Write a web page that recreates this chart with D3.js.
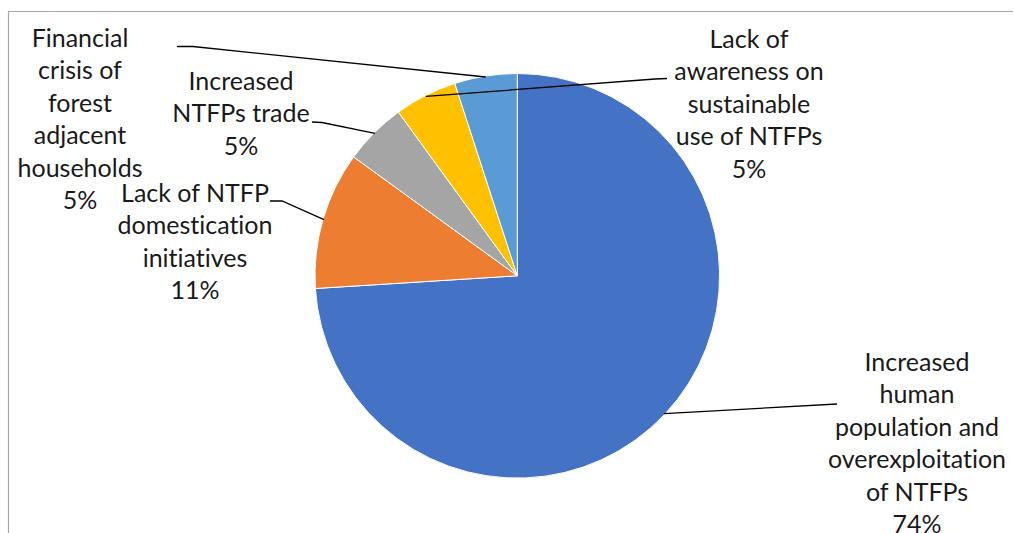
<!DOCTYPE html>
<html>
<head>
<meta charset="utf-8">
<script src="https://cdn.jsdelivr.net/npm/d3@7"></script>
<style>
  html, body { margin: 0; padding: 0; background: #fff; }
  svg text {
    font-family: Lato, "Open Sans", sans-serif;
    fill: #1a1a1a;
    font-variant-ligatures: none;
    font-feature-settings: "liga" 0, "clig" 0;
  }
</style>
</head>
<body>
<svg id="chart" width="1014" height="533"></svg>
<script>
// Causes of NTFP decline (share of responses, %)
const categories = [
  ["Increased", "human", "population and", "overexploitation", "of NTFPs"],
  ["Lack of NTFP", "domestication", "initiatives"],
  ["Increased", "NTFPs trade"],
  ["Lack of", "awareness on", "sustainable", "use of NTFPs"],
  ["Financial", "crisis of", "forest", "adjacent", "households"]
];
const values = [74, 11, 5, 5, 5];
const colors = ["#4472C4", "#ED7D31", "#A5A5A5", "#FFC000", "#5B9BD5"];

// label placement: centre x, first baseline y, and the leader-line path near the label
const labelLayout = [
  { x: 917, y: 371, lead: [[837, 404]] },
  { x: 195, y: 202, lead: [[270, 201], [282, 201]] },
  { x: 241, y: 90,  lead: [[312, 122], [322, 122.5]] },
  { x: 749, y: 48,  lead: [[667, 78.5], [655, 79]] },
  { x: 80,  y: 47,  lead: [[177, 46.5], [193, 46.5]] }
];

const W = 1014, H = 533;
const cx = 517.3, cy = 275.8, R = 202.3;
const lineH = 32.4;

const svg = d3.select("#chart");

// chart frame (top and left edges visible)
svg.append("path")
  .attr("d", `M8.5,${H} V11.5 H1013`)
  .attr("fill", "none")
  .attr("stroke", "#a6a6a6")
  .attr("stroke-width", 1.2);

const data = values.map((v, i) => ({ value: v, lines: categories[i], color: colors[i], layout: labelLayout[i] }));

const pie = d3.pie().value(d => d.value).sort(null);
const arcs = pie(data);
const arc = d3.arc().innerRadius(0).outerRadius(R);

const g = svg.append("g").attr("transform", `translate(${cx},${cy})`);
g.selectAll("path.slice")
  .data(arcs)
  .join("path")
  .attr("class", "slice")
  .attr("d", arc)
  .attr("fill", d => d.data.color)
  .attr("stroke", "#fff")
  .attr("stroke-width", 1);

// leader lines from the slice edge (mid-angle) to the label
arcs.forEach(a => {
  const mid = (a.startAngle + a.endAngle) / 2;
  const px = cx + R * Math.sin(mid) * 0.995;
  const py = cy - R * Math.cos(mid) * 0.995;
  const pts = a.data.layout.lead.concat([[px, py]]);
  svg.append("path")
    .attr("d", d3.line()(pts))
    .attr("fill", "none")
    .attr("stroke", "#000")
    .attr("stroke-width", 1.3);
});

// labels: category name lines followed by the percentage
arcs.forEach(a => {
  const L = a.data.layout;
  const t = svg.append("text")
    .attr("text-anchor", "middle")
    .attr("font-size", 25);
  const rows = a.data.lines.concat([d3.format(".0f")(a.data.value) + "%"]);
  rows.forEach((s, k) => {
    t.append("tspan").attr("x", L.x).attr("y", L.y + k * lineH).text(s);
  });
});
</script>
</body>
</html>
